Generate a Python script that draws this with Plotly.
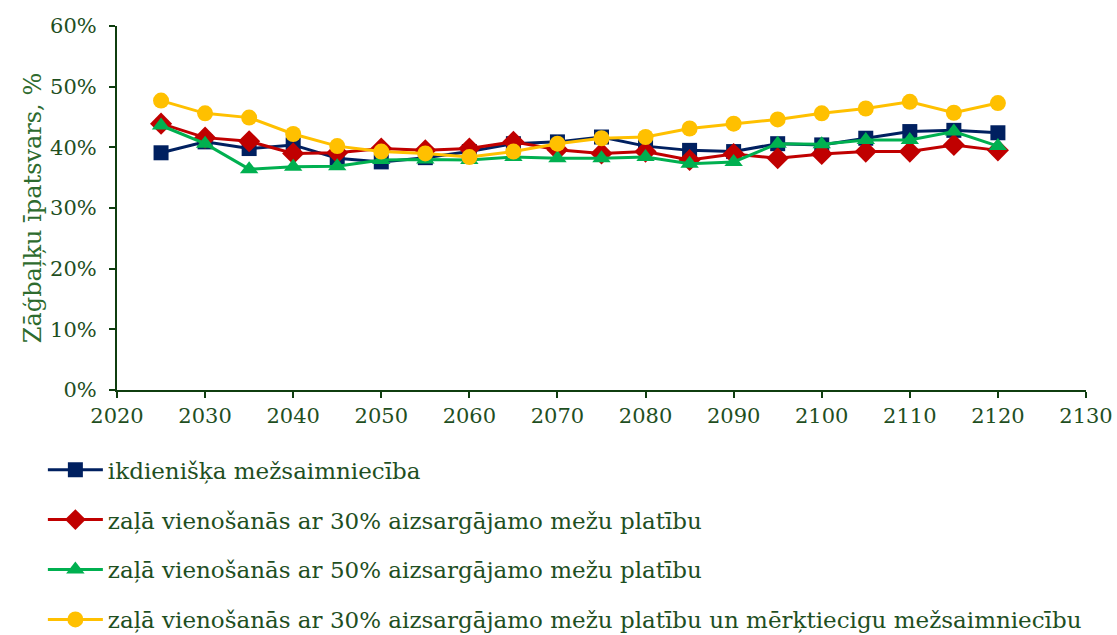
import plotly.graph_objects as go

years = [2025, 2030, 2035, 2040, 2045, 2050, 2055, 2060, 2065, 2070,
         2075, 2080, 2085, 2090, 2095, 2100, 2105, 2110, 2115, 2120]

ikdieniska = [39.1, 40.9, 39.8, 40.4, 38.2, 37.6, 38.3, 39.3, 40.6, 40.9,
              41.7, 40.2, 39.5, 39.3, 40.6, 40.4, 41.5, 42.6, 42.8, 42.4]
zala_30 = [43.9, 41.6, 41.0, 39.0, 39.1, 39.8, 39.5, 39.8, 40.9, 39.6,
           39.0, 39.3, 37.9, 38.9, 38.2, 38.9, 39.3, 39.3, 40.4, 39.5]
zala_50 = [43.6, 40.6, 36.4, 36.8, 36.9, 37.9, 38.0, 37.9, 38.4, 38.2,
           38.2, 38.4, 37.3, 37.6, 40.6, 40.5, 41.2, 41.2, 42.6, 40.2]
zala_30_merkt = [47.7, 45.6, 44.9, 42.2, 40.2, 39.3, 39.0, 38.4, 39.3, 40.6,
                 41.5, 41.7, 43.1, 43.9, 44.6, 45.6, 46.4, 47.5, 45.7, 47.3]

names = [
    "ikdienišķa mežsaimniecība",
    "zaļā vienošanās ar 30% aizsargājamo mežu platību",
    "zaļā vienošanās ar 50% aizsargājamo mežu platību",
    "zaļā vienošanās ar 30% aizsargājamo mežu platību un mērķtiecigu mežsaimniecību",
]
series = [ikdieniska, zala_30, zala_50, zala_30_merkt]
colors = ["#002060", "#C00000", "#00B050", "#FFC000"]
symbols = ["square", "diamond", "triangle-up", "circle"]
sizes = [15, 17, 16, 16]

text_color = "#1f4f1f"
axis_color = "#0f3d0f"
serif_family = "DejaVu Serif"

fig = go.Figure()
for i, (name, vals) in enumerate(zip(names, series)):
    fig.add_trace(go.Scatter(
        x=years,
        y=[v / 100 for v in vals],
        name=name,
        legendgroup=f"g{i}",
        mode="lines+markers",
        line=dict(color=colors[i], width=3),
        marker=dict(symbol=symbols[i], size=sizes[i], color=colors[i]),
    ))

fig.update_layout(
    width=1117,
    height=635,
    margin=dict(l=117, r=31, t=26, b=245, autoexpand=False),
    plot_bgcolor="white",
    paper_bgcolor="white",
    font=dict(family=serif_family, size=21, color=text_color),
    showlegend=True,
    legend=dict(
        orientation="v",
        x=-0.0765, xanchor="left",
        y=-0.16, yanchor="top",
        font=dict(family=serif_family, size=23, color=text_color),
        tracegroupgap=17,
        itemwidth=55,
        bgcolor="rgba(0,0,0,0)",
    ),
)

fig.update_xaxes(
    range=[2020, 2130],
    tick0=2020, dtick=10,
    showline=True, linecolor=axis_color, linewidth=2,
    ticks="outside", ticklen=6, tickcolor=axis_color, tickwidth=2,
    showgrid=False, zeroline=False,
    tickfont=dict(family=serif_family, size=21, color=text_color),
)
fig.update_yaxes(
    range=[0, 0.6],
    tick0=0, dtick=0.1,
    tickformat=".0%",
    showline=True, linecolor=axis_color, linewidth=2,
    ticks="outside", ticklen=6, tickcolor=axis_color, tickwidth=2,
    ticklabelstandoff=8,
    showgrid=False, zeroline=False,
    tickfont=dict(family=serif_family, size=21, color=text_color),
    title=dict(text="Zāģbaļķu īpatsvars, %",
               font=dict(family=serif_family, size=24, color="#2e6b2e"),
               standoff=2),
)

fig.write_html("out.html")
